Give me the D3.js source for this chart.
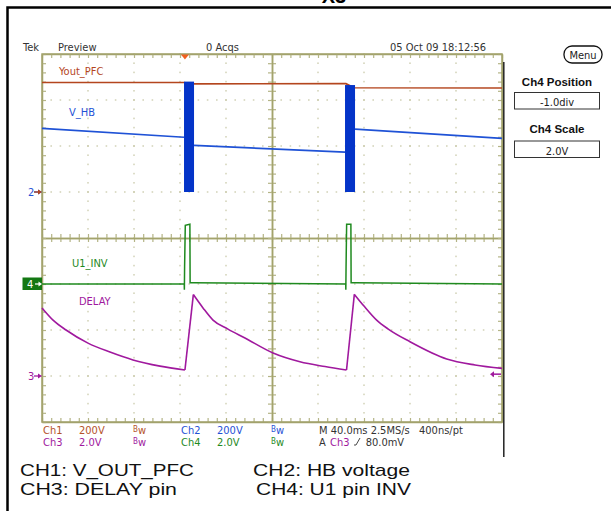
<!DOCTYPE html>
<html>
<head>
<meta charset="utf-8">
<script src="https://cdn.jsdelivr.net/npm/d3@7"></script>
<style>
  body { margin: 0; background: #fff; }
  svg { display: block; }
  .scope text { font-family: "Liberation Sans Narrow", "Arial Narrow", "DejaVu Sans Condensed", sans-serif; font-size: 11px; }
  .scope .bold { font-family: "Liberation Sans", Arial, sans-serif; font-weight: bold; font-size: 11.5px; }
  .scope .caption { font-family: "Liberation Sans", Arial, sans-serif; font-size: 17px; fill: #111; }
  .tick-axis path { stroke: #a3a36c; stroke-width: 1.5; }
  .tick-axis line { stroke: #b4b486; stroke-width: 1.2; }
</style>
</head>
<body>
<div class="scope"></div>
<script>
// scope settings
const channels = ["Ch1", "Ch2", "Ch3", "Ch4"];
const voltsPerDiv = [200, 200, 2, 2];
const groundDiv = [1, 1, -3, -1];
const scaleLabels = ["200V", "200V", "2.0V", "2.0V"];
const traceNames = ["Yout_PFC", "V_HB", "DELAY", "U1_INV"];
const triggerTime = 124.3;     // ms
const triggerLevel = 0.08;     // V on Ch3

// Ch1 - PFC output (time in ms, volts)
const ch1Time = [0, 123.5, 130.4, 264.3, 271.3, 400];
const ch1Volts = [476, 476, 470, 471, 453, 452];

// Ch2 - half bridge, sloped pieces between the switching bursts
const ch2Time = [[0, 123.5], [132.2, 263.5], [272.2, 400]];
const ch2Volts = [[277, 238], [203, 173], [273, 233]];
const burstStart = [123.5, 263.5];
const burstEnd = [132.2, 272.2];
const burstHigh = [480, 465];

// Ch3 - DELAY pin
const ch3Time = [0, 9.6, 20.9, 40, 59.1, 79.1, 102.6, 124.3,
  131.6, 140.0, 148.7, 161.7, 176.5, 200.9, 224.3, 246.1, 264.8,
  271.6, 280.0, 291.0, 301.1, 320, 351.9, 376.5, 400];
const ch3Volts = [2.96, 2.43, 2.0, 1.43, 1.04, 0.70, 0.43, 0.26,
  3.54, 2.96, 2.43, 2.04, 1.65, 1.0, 0.62, 0.41, 0.26,
  3.55, 3.04, 2.43, 2.04, 1.49, 0.74, 0.48, 0.33];

// Ch4 - U1 pin INV
const ch4Time = [0, 123.7, 123.8, 124.0, 124.6, 128.6, 128.8, 131.6,
  264.1, 264.2, 264.4, 264.9, 268.6, 268.8, 272.2, 400];
const ch4Volts = [0, 0, -0.25, 0.75, 2.55, 2.6, 0.05, 0.05,
  0, -0.25, 0.75, 2.6, 2.6, 0.05, 0.05, 0];

const colors = ["#b4461e", "#1f52d6", "#a0199e", "#1f8a1f"];
const burstColor = "#0434c8";
const gridColor = "#a3a36c";

const margin = {top: 54, left: 42},
  width = 460,
  height = 368;

const x = d3.scaleLinear().domain([0, 400]).range([0, width]);   // 40 ms/div
const y = d3.scaleLinear().domain([-4, 4]).range([height, 0]);   // divisions

const toDiv = (ch, v) => groundDiv[ch] + v / voltsPerDiv[ch];

const svg = d3.select(".scope").append("svg")
    .attr("width", 611)
    .attr("height", 511);

// frame and cut-off title
svg.append("text")
  .attr("x", 334).attr("y", 3)
  .attr("text-anchor", "middle")
  .attr("class", "bold")
  .style("font-size", "20px")
  .text("X3");
svg.append("path")
  .attr("d", "M7.5,511 V7.5 H611")
  .attr("fill", "none")
  .attr("stroke", "#000")
  .attr("stroke-width", 2.5);

// header
const header = [["Tek", 23], ["Preview", 58], ["0 Acqs", 206], ["05 Oct 09 18:12:56", 390]];
svg.selectAll(".hdr").data(header).enter().append("text")
  .attr("x", d => d[1]).attr("y", 50.5)
  .attr("fill", "#333")
  .text(d => d[0]);

const g = svg.append("g")
  .attr("transform", "translate(" + margin.left + "," + margin.top + ")");

// dotted graticule
const minorT = d3.range(0, 51).map(i => i * 8);
const minorV = d3.range(-20, 21).map(i => i / 5);
const majorT = [40, 80, 120, 160, 240, 280, 320, 360];
const majorV = [-3, -2, -1, 1, 2, 3];

const dots = [];
majorT.forEach(t => minorV.forEach(v => dots.push([t, v, 1, 1.6])));
majorV.forEach(v => minorT.forEach(t => dots.push([t, v, 1.6, 1])));
g.selectAll(".dot").data(dots).enter().append("rect")
  .attr("x", d => x(d[0]) - d[2] / 2)
  .attr("y", d => y(d[1]) - d[3] / 2)
  .attr("width", d => d[2])
  .attr("height", d => d[3])
  .attr("fill", "#bcbc94");

// tick marks: edges point inward, centre lines both ways
function ticks(axis, tx, ty, values) {
  g.append("g")
    .attr("class", "tick-axis")
    .attr("transform", "translate(" + tx + "," + ty + ")")
    .call(axis.tickValues(values).tickSize(4).tickSizeOuter(0).tickFormat(""));
}
ticks(d3.axisBottom(x), 0, 0, minorT);
ticks(d3.axisTop(x), 0, height, minorT);
ticks(d3.axisBottom(x), 0, y(0), minorT);
ticks(d3.axisTop(x), 0, y(0), minorT);
ticks(d3.axisRight(y), 0, 0, minorV);
ticks(d3.axisLeft(y), width, 0, minorV);
ticks(d3.axisRight(y), x(200), 0, minorV);
ticks(d3.axisLeft(y), x(200), 0, minorV);

g.append("rect")
  .attr("width", width).attr("height", height)
  .attr("fill", "none")
  .attr("stroke", gridColor)
  .attr("stroke-width", 1.5);

svg.append("line")
  .attr("x1", 503.8).attr("x2", 503.8)
  .attr("y1", 62).attr("y2", 457)
  .attr("stroke", "#222").attr("stroke-width", 1.5);

// traces
const line = d3.line()
  .x(d => x(d[0]))
  .y(d => y(d[1]));

// Ch1
g.append("path")
  .datum(ch1Time.map((t, i) => [t, toDiv(0, ch1Volts[i])]))
  .attr("fill", "none")
  .attr("stroke", colors[0])
  .attr("stroke-width", 1.6)
  .attr("d", line);

// Ch2
ch2Time.forEach((ts, k) => {
  g.append("path")
    .datum(ts.map((t, i) => [t, toDiv(1, ch2Volts[k][i])]))
    .attr("fill", "none")
    .attr("stroke", colors[1])
    .attr("stroke-width", 1.7)
    .attr("d", line);
});
g.selectAll(".burst").data(burstStart).enter().append("rect")
  .attr("x", (d, i) => x(d))
  .attr("width", (d, i) => x(burstEnd[i]) - x(d))
  .attr("y", (d, i) => y(toDiv(1, burstHigh[i])))
  .attr("height", (d, i) => y(toDiv(1, 0)) - y(toDiv(1, burstHigh[i])))
  .attr("fill", burstColor);

// Ch4
g.append("path")
  .datum(ch4Time.map((t, i) => [t, toDiv(3, ch4Volts[i])]))
  .attr("fill", "none")
  .attr("stroke", colors[3])
  .attr("stroke-width", 1.5)
  .attr("d", line);

// Ch3: smooth decays joined by steep rises
const ch3Points = ch3Time.map((t, i) => [t, toDiv(2, ch3Volts[i])]);
const runs = [];
ch3Points.forEach((p, i) => {
  if (i === 0 || p[1] > ch3Points[i - 1][1]) runs.push([]);
  runs[runs.length - 1].push(p);
});
const smooth = d3.line().x(d => x(d[0])).y(d => y(d[1])).curve(d3.curveMonotoneX);
runs.forEach((run, k) => {
  g.append("path")
    .datum(run)
    .attr("fill", "none")
    .attr("stroke", colors[2])
    .attr("stroke-width", 1.6)
    .attr("d", smooth);
  if (k > 0) {
    g.append("path")
      .datum([runs[k - 1][runs[k - 1].length - 1], run[0]])
      .attr("fill", "none")
      .attr("stroke", colors[2])
      .attr("stroke-width", 1.6)
      .attr("d", line);
  }
});

// trace names
const namePos = [[17, 75], [27, 116], [37, 305], [30, 267]];
traceNames.forEach((n, i) => {
  g.append("text")
    .attr("x", namePos[i][0]).attr("y", namePos[i][1] - margin.top)
    .attr("fill", colors[i])
    .text(n);
});

// trigger position and level markers
g.append("path")
  .attr("d", "M" + (x(triggerTime) - 4) + ",0.5 h8 l-4,5 z")
  .attr("fill", "#f06020");
const ty = y(toDiv(2, triggerLevel));
g.append("path")
  .attr("d", "M" + (width - 1) + "," + ty + " H" + (width - 10))
  .attr("stroke", colors[2]).attr("stroke-width", 1.5);
g.append("path")
  .attr("d", "M" + (width - 12) + "," + ty + " l4,-3 v6 z")
  .attr("fill", colors[2]);

// ground markers on the left
function groundArrow(ch, color) {
  const gy = margin.top + y(groundDiv[ch]);
  svg.append("path").attr("d", "M34," + gy + " H40").attr("stroke", color).attr("stroke-width", 1.3);
  svg.append("path").attr("d", "M42," + gy + " l-4,-2.5 v5 z").attr("fill", color);
}
groundArrow(1, colors[1]);
groundArrow(0, colors[0]);
svg.append("text").attr("x", 28).attr("y", margin.top + y(1) + 4).attr("fill", colors[1]).text("2");
groundArrow(2, colors[2]);
svg.append("text").attr("x", 28).attr("y", margin.top + y(-3) + 4).attr("fill", colors[2]).text("3");
const g4 = margin.top + y(-1);
svg.append("rect").attr("x", 22.5).attr("y", g4 - 6.5).attr("width", 19.5).attr("height", 12.5).attr("fill", "#137813");
svg.append("text").attr("x", 27).attr("y", g4 + 4).attr("fill", "#fff").text("4");
svg.append("path").attr("d", "M35," + g4 + " H40").attr("stroke", "#fff").attr("stroke-width", 1.2);
svg.append("path").attr("d", "M42," + g4 + " l-3.5,-2.5 v5 z").attr("fill", "#fff");

// status rows
channels.forEach((c, i) => {
  const col = i % 2 === 0 ? 43 : 181;
  const row = i < 2 ? 434 : 445.7;
  const t = svg.append("g").attr("fill", i === 0 ? "#b5532a" : colors[i]);
  t.append("text").attr("x", col).attr("y", row).text(c);
  t.append("text").attr("x", col + 36).attr("y", row).text(scaleLabels[i]);
  const bw = t.append("text").attr("x", col + 90).attr("y", row);
  bw.append("tspan").attr("dy", -2).style("font-size", "8px").text("B");
  bw.append("tspan").attr("dy", 2).text("w");
});
svg.append("text").attr("x", 319).attr("y", 434).attr("fill", "#333").text("M 40.0ms 2.5MS/s");
svg.append("text").attr("x", 419).attr("y", 434).attr("fill", "#333").text("400ns/pt");
svg.append("text").attr("x", 319).attr("y", 445.7).attr("fill", "#333").text("A");
svg.append("text").attr("x", 330).attr("y", 445.7).attr("fill", colors[2]).text("Ch3");
svg.append("path").attr("d", "M354,445 h2 l4,-7").attr("fill", "none").attr("stroke", "#333").attr("stroke-width", 0.9);
svg.append("text").attr("x", 365.7).attr("y", 445.7).attr("fill", "#333").text("80.0mV");

// side menu
svg.append("rect")
  .attr("x", 564).attr("y", 46).attr("width", 38).attr("height", 17).attr("rx", 8)
  .attr("fill", "#fff").attr("stroke", "#111").attr("stroke-width", 1.3);
svg.append("text").attr("x", 583).attr("y", 59).attr("text-anchor", "middle").attr("fill", "#222").text("Menu");
const side = [["Ch4 Position", "-1.0div", 86, 92.5], ["Ch4 Scale", "2.0V", 133, 141]];
side.forEach(s => {
  svg.append("text").attr("class", "bold").attr("x", 557).attr("y", s[2])
    .attr("text-anchor", "middle").attr("fill", "#111").text(s[0]);
  svg.append("rect").attr("x", 514.5).attr("y", s[3]).attr("width", 85).attr("height", 16.5)
    .attr("fill", "#fff").attr("stroke", "#333").attr("stroke-width", 1);
  svg.append("text").attr("x", 557).attr("y", s[3] + 13.5)
    .attr("text-anchor", "middle").attr("fill", "#222").text(s[1]);
});

// caption (stretched to the widths on the original)
const caption = [["CH1: V_OUT_PFC", 20, 476, 174], ["CH2: HB voltage", 253, 476, 157],
  ["CH3: DELAY pin", 20, 495, 157], ["CH4: U1 pin INV", 256, 495, 155]];
svg.selectAll(".cap").data(caption).enter().append("text")
  .attr("class", "caption")
  .attr("x", d => d[1]).attr("y", d => d[2])
  .attr("textLength", d => d[3])
  .attr("lengthAdjust", "spacingAndGlyphs")
  .text(d => d[0]);
</script>
</body>
</html>
